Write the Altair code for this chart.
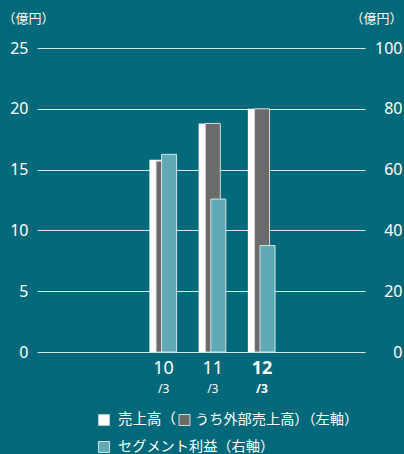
import altair as alt
import pandas as pd

# ---- data ----
years = ["10", "11", "12"]
suffix = ["/3", "/3", "/3"]
sales = [15.8, 18.8, 20.0]          # 売上高 (left axis, 億円)
external_sales = [15.7, 18.8, 20.0]  # うち外部売上高 (left axis)
segment_profit = [65.0, 50.3, 35.0]  # セグメント利益 (right axis, 億円)
left_ticks = [0, 5, 10, 15, 20, 25]
right_ticks = [0, 20, 40, 60, 80, 100]

BG = "#02697A"
WHITE = "#FFFFFF"
GRAY = "#6B6B6B"
TEAL = "#62A9B6"
FONT = "Noto Sans CJK JP"
NUMFONT = "Noto Sans"

df = pd.DataFrame({
    "idx": list(range(len(years))),
    "year": years,
    "suffix": suffix,
    "sales": sales,
    "external": external_sales,
    "profit": segment_profit,
})

W, H = 328, 304
x_enc = alt.X("idx:Q", scale=alt.Scale(domain=[-2.47, 3.99], nice=False, zero=False), axis=None)

base = alt.Chart(df)

left_axis = alt.Axis(
    values=left_ticks, orient="left", domain=False, ticks=False, grid=True,
    gridColor="#FFFFFF", gridOpacity=0.85, gridWidth=1,
    labelColor="#FFFFFF", labelFontSize=16, labelFont=NUMFONT, labelPadding=9,
    title="（億円）", titleAngle=0, titleAlign="left", titleBaseline="middle",
    titleX=-35, titleY=-30, titleFontSize=13, titleFontWeight="normal",
    titleColor="#FFFFFF", titleFont=FONT,
)
right_axis = alt.Axis(
    values=right_ticks, orient="right", domain=False, ticks=False, grid=False,
    labelColor="#FFFFFF", labelFontSize=16, labelFont=NUMFONT, labelPadding=37,
    labelAlign="right",
    title="（億円）", titleAngle=0, titleAlign="right", titleBaseline="middle",
    titleX=37, titleY=-30, titleFontSize=13, titleFontWeight="normal",
    titleColor="#FFFFFF", titleFont=FONT,
)

yl_scale = alt.Scale(domain=[0, 25], nice=False)
yr_scale = alt.Scale(domain=[0, 100], nice=False)

white_bars = base.mark_bar(width=15, xOffset=-6.7, color=WHITE).encode(
    x=x_enc, y=alt.Y("sales:Q", scale=yl_scale, axis=left_axis))
gray_bars = base.mark_bar(width=15, xOffset=0, color=GRAY, stroke="#D8D8D8", strokeWidth=1).encode(
    x=x_enc, y=alt.Y("external:Q", scale=yl_scale, axis=left_axis))
left_layer = alt.layer(white_bars, gray_bars)

teal_bars = base.mark_bar(width=15, xOffset=5.5, color=TEAL, stroke="#CFE6EA", strokeWidth=1).encode(
    x=x_enc, y=alt.Y("profit:Q", scale=yr_scale, axis=right_axis))

# x labels
year_reg = base.transform_filter(alt.datum.idx < 2).mark_text(
    font=NUMFONT, fontSize=18, color=WHITE, baseline="middle").encode(
    x=x_enc, y=alt.value(321), text="year:N")
year_bold = base.transform_filter(alt.datum.idx == 2).mark_text(
    font=NUMFONT, fontSize=18, fontWeight="bold", color=WHITE, baseline="middle").encode(
    x=x_enc, y=alt.value(321), text="year:N")
suf_reg = base.transform_filter(alt.datum.idx < 2).mark_text(
    font=NUMFONT, fontSize=12, color=WHITE, baseline="middle").encode(
    x=x_enc, y=alt.value(341), text="suffix:N")
suf_bold = base.transform_filter(alt.datum.idx == 2).mark_text(
    font=NUMFONT, fontSize=12, fontWeight="bold", color=WHITE, baseline="middle").encode(
    x=x_enc, y=alt.value(341), text="suffix:N")

# legend
one = alt.Chart(alt.Data(values=[{"k": 0}]))
sq1 = one.mark_square(size=130, color=WHITE, opacity=1).encode(x=alt.value(67), y=alt.value(372))
tx1 = one.mark_text(text="売上高（", font=FONT, fontSize=14.5, color=WHITE, align="left", baseline="middle").encode(
    x=alt.value(81), y=alt.value(372))
sq2 = one.mark_square(size=120, color=GRAY, stroke="#D8D8D8", strokeWidth=1, opacity=1).encode(
    x=alt.value(147.5), y=alt.value(372))
tx2 = one.mark_text(text="うち外部売上高）（左軸）", font=FONT, fontSize=14.2, color=WHITE, align="left", baseline="middle").encode(
    x=alt.value(158), y=alt.value(372))
sq3 = one.mark_square(size=120, color=TEAL, stroke="#CFE6EA", strokeWidth=1, opacity=1).encode(
    x=alt.value(67), y=alt.value(399))
tx3 = one.mark_text(text="セグメント利益（右軸）", font=FONT, fontSize=14.2, color=WHITE, align="left", baseline="middle").encode(
    x=alt.value(81), y=alt.value(399))

chart = alt.layer(
    left_layer, teal_bars,
    year_reg, year_bold, suf_reg, suf_bold,
    sq1, tx1, sq2, tx2, sq3, tx3,
).resolve_scale(y="independent").properties(
    width=W, height=H,
    background=BG,
    padding={"left": 37, "top": 48, "right": 39, "bottom": 102},
    autosize=alt.AutoSizeParams(type="none"),
).configure_view(stroke=None)

chart.save("out.html", embed_options={"renderer": "svg", "actions": False})
